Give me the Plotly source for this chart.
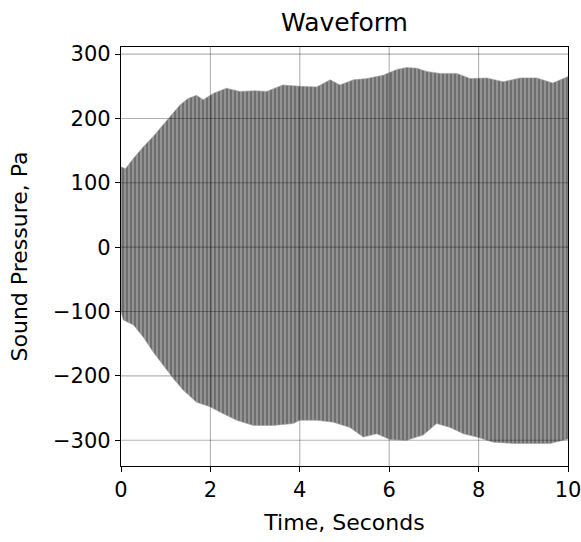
import plotly.graph_objects as go

# Envelope of the waveform (seconds, Pa)
t_upper = [0.0, 0.1, 0.28, 0.5, 0.72, 0.95, 1.1, 1.32, 1.5, 1.69, 1.84, 2.07, 2.36, 2.66, 3.0, 3.26,
           3.62, 4.0, 4.38, 4.68, 4.9, 5.2, 5.5, 5.86, 6.17, 6.39, 6.62, 6.84, 7.14, 7.51, 7.81,
           8.18, 8.55, 8.93, 9.3, 9.66, 10.0]
p_upper = [125, 122, 138, 156, 172, 190, 203, 221, 231, 236, 229, 239, 247, 242, 243, 242,
           252, 250, 249, 260, 252, 260, 262, 267, 276, 279, 278, 273, 270, 270, 262,
           263, 257, 263, 263, 255, 265]

t_lower = [0.0, 0.05, 0.28, 0.5, 0.72, 0.95, 1.17, 1.39, 1.69, 1.99, 2.29, 2.59, 2.96, 3.41, 3.85,
           4.0, 4.38, 4.75, 5.12, 5.42, 5.72, 6.02, 6.39, 6.76, 7.06, 7.36, 7.66, 7.96, 8.33,
           8.78, 9.22, 9.6, 9.9, 10.0]
p_lower = [-100, -113, -121, -140, -163, -184, -204, -222, -241, -248, -259, -269, -277, -277, -274,
           -269, -269, -272, -280, -295, -290, -299, -300, -292, -274, -280, -290, -295, -303,
           -305, -305, -305, -300, -298]

x_ticks = [0, 2, 4, 6, 8, 10]
y_ticks = [-300, -200, -100, 0, 100, 200, 300]

fig = go.Figure()
fig.add_trace(go.Scatter(
    x=t_upper + t_lower[::-1],
    y=p_upper + p_lower[::-1],
    mode="lines",
    fill="toself",
    fillcolor="#8a8a8a",
    fillpattern=dict(shape="|", size=4, solidity=0.35, fgcolor="#2a2a2a", bgcolor="#939393"),
    line=dict(color="#a0a0a0", width=0.6),
    hoverinfo="skip",
    showlegend=False,
))

grid_col = "rgba(0,0,0,0.3)"
for xv in x_ticks[1:-1]:
    fig.add_shape(type="line", xref="x", yref="paper", x0=xv, x1=xv, y0=0, y1=1,
                  line=dict(color=grid_col, width=1.1), layer="above")
for yv in y_ticks:
    fig.add_shape(type="line", xref="paper", yref="y", x0=0, x1=1, y0=yv, y1=yv,
                  line=dict(color=grid_col, width=1.1), layer="above")

font = "DejaVu Sans"
fig.update_layout(
    width=581, height=542,
    margin=dict(l=121, r=13, t=47, b=76, autoexpand=False),
    paper_bgcolor="white", plot_bgcolor="white",
    title=dict(text="Waveform", x=(121 + 568) / 2 / 581, xanchor="center",
               y=1 - 22 / 542, yanchor="middle",
               font=dict(family=font, size=25, color="black")),
    font=dict(family=font, size=21, color="black"),
    xaxis=dict(range=[0, 10], tickvals=x_ticks, ticks="outside", ticklen=5, tickwidth=1.2,
               tickcolor="black", showline=True, linecolor="black", linewidth=1.3, mirror=True,
               showgrid=False, zeroline=False, layer="above traces", ticklabeloverflow="allow",
               title=dict(text="Time, Seconds", standoff=13, font=dict(size=22)),
               tickfont=dict(size=21)),
    yaxis=dict(range=[-340, 311], tickvals=y_ticks,
               ticktext=["\u2212300", "\u2212200", "\u2212100", "0", "100", "200", "300"],
               ticks="outside", ticklen=5, tickwidth=1.2,
               tickcolor="black", showline=True, linecolor="black", linewidth=1.3, mirror=True,
               showgrid=False, zeroline=False, layer="above traces", ticklabeloverflow="allow",
               title=dict(text="Sound Pressure, Pa", standoff=19, font=dict(size=22)),
               tickfont=dict(size=21)),
)

fig.write_html("out.html")
